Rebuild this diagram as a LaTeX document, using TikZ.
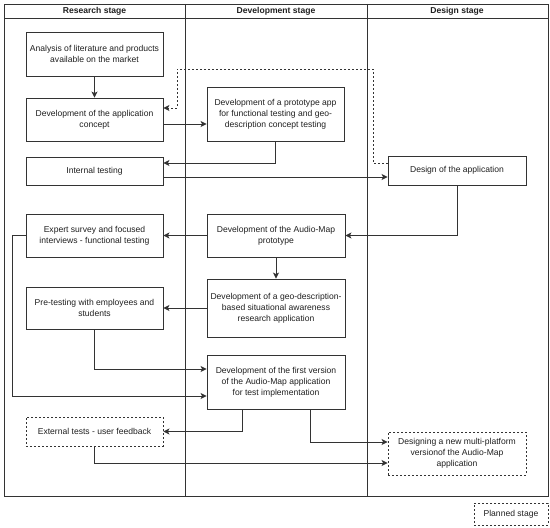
\documentclass[tikz,border=0pt]{standalone}
\usepackage{fontspec}
\setmainfont{Liberation Sans}
\usetikzlibrary{arrows.meta}
\begin{document}
\begin{tikzpicture}[x=1bp,y=-1bp,
  line width=0.9bp,
  every node/.style={font=\fontsize{8.6}{11}\selectfont, text=black!88},
  box/.style={draw=black!80, rectangle, align=center, inner sep=0pt},
  planned/.style={box, dash pattern=on 2bp off 2bp},
  hdr/.style={font=\fontsize{8.6}{11}\selectfont\bfseries},
  arr/.style={draw=black!80, -{Stealth[length=6bp,width=6bp,inset=1.5bp]}},
  dotarr/.style={arr, dash pattern=on 2bp off 2bp}]
\useasboundingbox (0,0) rectangle (550,528);
% frame
\draw[draw=black!80] (4,4) rectangle (548,496);
\draw[draw=black!80] (4,18) -- (548,18);
\draw[draw=black!80] (185,4) -- (185,496);
\draw[draw=black!80] (367,4) -- (367,496);
\node[hdr] (h1) at (94.5,11.5) {Research stage};
\node[hdr] (h2) at (276,11.5) {Development stage};
\node[hdr] (h3) at (457,11.5) {Design stage};
% boxes
\node[box, minimum width=137bp, minimum height=44bp] (A) at (94.5,54) {Analysis of literature and products\\available on the market};
\node[box, minimum width=137bp, minimum height=43bp] (B) at (94.5,119.5) {Development of the application\\concept};
\node[box, minimum width=137bp, minimum height=54bp] (C) at (275.5,114) {Development of a prototype app\\for functional testing and geo-\\description concept testing};
\node[box, minimum width=137bp, minimum height=28bp] (D) at (94.5,171) {Internal testing};
\node[box, minimum width=138bp, minimum height=29bp] (Des) at (457,170.5) {Design of the application};
\node[box, minimum width=138bp, minimum height=43bp] (E) at (276,235.5) {Development of the Audio-Map\\prototype};
\node[box, minimum width=137bp, minimum height=43bp] (F) at (94.5,235.5) {Expert survey and focused\\interviews - functional testing};
\node[box, minimum width=138bp, minimum height=58bp] (G) at (276,308) {Development of a geo-description-\\based situational awareness\\research application};
\node[box, minimum width=137bp, minimum height=42bp] (H) at (94.5,308) {Pre-testing with employees and\\students};
\node[box, minimum width=138bp, minimum height=54bp] (I) at (276,382) {Development of the first version\\of the Audio-Map application\\for test implementation};
\node[planned, minimum width=137bp, minimum height=29bp] (J) at (94.5,431.5) {External tests - user feedback};
\node[planned, minimum width=138bp, minimum height=43bp] (K) at (457,453.5) {Designing a new multi-platform\\versionof the Audio-Map\\application};
\node[planned, minimum width=74bp, minimum height=22bp] (L) at (511,514) {Planned stage};
% connectors
\draw[arr] (A.south) -- (B.north);
\draw[arr] ([yshift=-4.5bp]B.east) coordinate (p1) -- (p1 -| C.west);
\draw[dotarr] ([yshift=7.5bp]Des.west) -| (373,69) -| (177,108) -- (B.east |- 177,108);
\draw[arr] (C.south) |- ([yshift=8bp]D.east);
\draw[arr] ([yshift=-6bp]D.east) coordinate (p2) -- (p2 -| Des.west);
\draw[arr] (Des.south) |- (E.east);
\draw[arr] (E.west) -- (F.east);
\draw[arr] (E.south) -- (G.north);
\draw[arr] (G.west) -- (H.east);
\draw[arr] (H.south) |- ([yshift=13bp]I.west);
\draw[arr] (F.west) -- (12,235.5) |- ([yshift=-14bp]I.west);
\draw[arr] ([xshift=-34bp]I.south) |- (J.east);
\draw[arr] ([xshift=34bp]I.south) |- ([yshift=11.5bp]K.west);
\draw[arr] (J.south) |- ([yshift=-9.5bp]K.west);
\end{tikzpicture}
\end{document}
